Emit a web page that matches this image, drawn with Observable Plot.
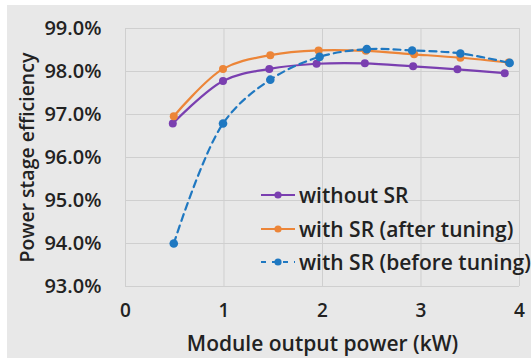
<!DOCTYPE html>
<html>
<head>
<meta charset="utf-8">
<script src="https://cdn.jsdelivr.net/npm/d3@7"></script>
<script src="https://cdn.jsdelivr.net/npm/@observablehq/plot@0.6"></script>
<style>
  html, body { margin: 0; padding: 0; background: #ffffff; }
  #wrap { position: absolute; left: 7px; top: 5px; width: 524px; height: 353px; background: #e8e8e8; overflow: hidden; }
  #chart { position: absolute; left: -7px; top: -5px; }
  #legend { position: absolute; left: 253px; top: 173px; font-family: "Open Sans", sans-serif; font-weight: 600; font-size: 21px; color: #222; white-space: nowrap; }
  .row { display: flex; align-items: center; height: 33.7px; }
  .row svg { margin-right: 3px; }
  svg text { fill: #222; }
</style>
</head>
<body>
<div id="wrap"><div id="chart"></div><div id="legend"></div></div>
<script>
const seriesNames = ["without SR", "with SR (after tuning)", "with SR (before tuning)"];
const seriesColors = ["#7a3fb0", "#ec8538", "#1f78c1"];
const xWithout = [0.48, 0.99, 1.46, 1.94, 2.43, 2.92, 3.37, 3.85];
const yWithout = [96.79, 97.78, 98.06, 98.18, 98.19, 98.12, 98.05, 97.96];
const xAfter = [0.49, 0.99, 1.47, 1.96, 2.44, 2.93, 3.40, 3.89];
const yAfter = [96.96, 98.06, 98.38, 98.49, 98.48, 98.40, 98.32, 98.21];
const xBefore = [0.49, 0.99, 1.47, 1.97, 2.45, 2.91, 3.40, 3.90];
const yBefore = [94.00, 96.79, 97.81, 98.34, 98.52, 98.49, 98.42, 98.20];
const xTicks = [0, 1, 2, 3, 4];
const yTicks = [93, 94, 95, 96, 97, 98, 99];

const toRows = (xs, ys, s) => xs.map((x, i) => ({x, y: ys[i], s}));
const dWithout = toRows(xWithout, yWithout, seriesNames[0]);
const dAfter = toRows(xAfter, yAfter, seriesNames[1]);
const dBefore = toRows(xBefore, yBefore, seriesNames[2]);

const chart = Plot.plot({
  width: 531,
  height: 358,
  marginLeft: 125,
  marginRight: 12,
  marginTop: 28,
  marginBottom: 72,
  style: {fontFamily: "Open Sans, sans-serif", fontWeight: 600, fontSize: "19px", color: "#222", background: "transparent", overflow: "visible"},
  x: {domain: [0, 4]},
  y: {domain: [93, 99]},
  marks: [
    Plot.gridX(xTicks, {stroke: "#cfcfcf", strokeOpacity: 1, strokeWidth: 1}),
    Plot.gridY(yTicks, {stroke: "#cfcfcf", strokeOpacity: 1, strokeWidth: 1}),
    Plot.axisX(xTicks, {tickSize: 0, tickPadding: 17, fontSize: 19, tickFormat: d => String(d), label: null}),
    Plot.axisX({label: "Module output power (kW)", labelAnchor: "center", labelArrow: "none", labelOffset: 64, fontSize: 21, ticks: [], tickSize: 0}),
    Plot.axisY(yTicks, {tickSize: 0, tickPadding: 24, fontSize: 20, tickFormat: d => d.toFixed(1) + "%", label: null}),
    Plot.axisY({label: "Power stage efficiency", labelAnchor: "center", labelArrow: "none", labelOffset: 105, fontSize: 19.5, ticks: [], tickSize: 0}),
    Plot.line(dWithout, {x: "x", y: "y", stroke: seriesColors[0], strokeWidth: 2.2, curve: "catmull-rom"}),
    Plot.dot(dWithout, {x: "x", y: "y", fill: seriesColors[0], r: 4}),
    Plot.line(dAfter, {x: "x", y: "y", stroke: seriesColors[1], strokeWidth: 2.2, curve: "catmull-rom"}),
    Plot.dot(dAfter, {x: "x", y: "y", fill: seriesColors[1], r: 4}),
    Plot.line(dBefore, {x: "x", y: "y", stroke: seriesColors[2], strokeWidth: 2.2, strokeDasharray: "7,5", curve: "catmull-rom"}),
    Plot.dot(dBefore, {x: "x", y: "y", fill: seriesColors[2], r: 4.3})
  ]
});
document.getElementById("chart").appendChild(chart);

const legend = document.getElementById("legend");
seriesNames.forEach((name, i) => {
  const row = document.createElement("div");
  row.className = "row";
  const dash = i === 2 ? ' stroke-dasharray="5,6"' : "";
  row.innerHTML = `<svg width="36" height="12"><line x1="1" y1="6" x2="35" y2="6" stroke="${seriesColors[i]}" stroke-width="2"${dash}/><circle cx="18" cy="6" r="3.6" fill="${seriesColors[i]}"/></svg><span>${name}</span>`;
  legend.appendChild(row);
});
</script>
</body>
</html>
